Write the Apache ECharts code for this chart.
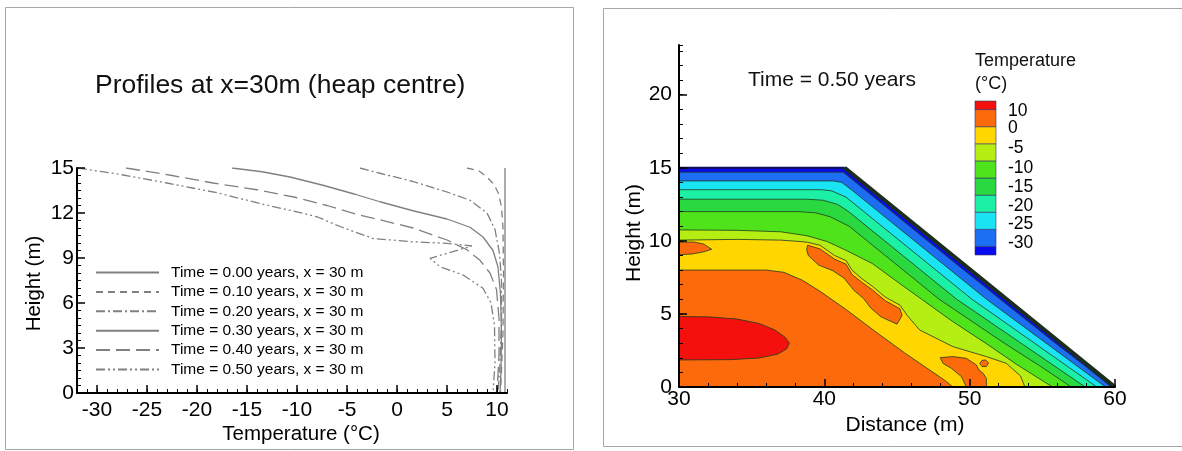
<!DOCTYPE html>
<html><head><meta charset="utf-8">
<script src="https://cdn.jsdelivr.net/npm/echarts@6/dist/echarts.min.js"></script>
<style>html,body{margin:0;padding:0;background:#fff}#c{width:1182px;height:451px}</style>
</head><body><div id="c"></div><script>
// ---------- LEFT PANEL DATA: temperature profiles at x = 30 m ----------
const profileNames = [
  'Time = 0.00 years, x = 30 m','Time = 0.10 years, x = 30 m','Time = 0.20 years, x = 30 m',
  'Time = 0.30 years, x = 30 m','Time = 0.40 years, x = 30 m','Time = 0.50 years, x = 30 m'];
// [temperature (°C), height (m)]
const t000 = [[10.8,0],[10.8,15]];
const t010 = [[7.0,15],[8.2,14.8],[9.0,14.4],[9.7,13.9],[10.15,13.3],[10.45,12.4],[10.6,11],[10.65,8],[10.6,4],[10.45,1.5],[10.35,0]];
const t020 = [[-3.7,15],[-1.7,14.65],[1.6,14.1],[5.0,13.4],[7.3,12.85],[9.0,12.0],[9.8,10.9],[10.25,9.3],[10.45,7.5],[10.45,5],[10.3,2],[10.1,0]];
const t030 = [[-16.5,15],[-13.5,14.75],[-10.7,14.4],[-7.4,13.85],[-4.2,13.25],[-1.7,12.75],[1.6,12.15],[5.0,11.6],[7.3,11.05],[8.6,10.4],[9.6,9.5],[10.1,8.4],[10.35,6.6],[10.45,4],[10.4,1.5],[10.3,0]];
const t040 = [[-27.1,15],[-22.5,14.5],[-18.4,14.0],[-14.0,13.55],[-10.2,13.05],[-7.0,12.5],[-4.0,11.9],[-1.7,11.55],[1.6,11.0],[5.0,10.2],[7.0,9.55],[8.3,8.85],[9.3,8.0],[9.95,6.9],[10.2,5],[10.2,2.5],[10.0,0]];
const t050 = [[-31.9,15],[-27.5,14.55],[-23.0,14.0],[-18.0,13.35],[-13.5,12.6],[-10.5,12.15],[-8.0,11.75],[-5.7,11.1],[-2.4,10.3],[1.6,10.08],[5.0,9.98],[7.5,9.8],[3.3,8.98],[4.3,8.42],[6.6,7.87],[8.6,6.98],[9.4,6.0],[9.75,4.5],[9.8,2.0],[9.6,0]];
const profileData = [t000,t010,t020,t030,t040,t050];
const tempTicks = [-30,-25,-20,-15,-10,-5,0,5,10];

// ---------- RIGHT PANEL DATA: heap cross-section at t = 0.50 years ----------
// [distance (m), height (m)]
const heapOutline = [[30,0],[30,15],[41.4,15],[60,0]];
const heapTop = [[30,15],[41.4,15]];
const heapSlope = [[41.4,15],[60,0]];
const iso1 = [[30,14.7],[41.3,14.7],[47.1,10],[52.1,6],[55.9,3],[57.85,1.5],[59.75,0]];
const iso2 = [[30,14.1],[40.6,14.1],[41.2,14.0],[41.86,13.5],[43.72,12],[47.44,9],[51.16,6],[55.26,3],[57.3,1.5],[59.35,0]];
const iso3 = [[30,13.5],[39.8,13.5],[40.5,13.42],[41.48,13],[42.72,12],[46.44,9],[50.16,6],[54.46,3],[56.6,1.5],[58.75,0]];
const iso4 = [[30,12.85],[38.8,12.85],[39.9,12.78],[40.9,12.5],[41.67,12],[45.39,9],[49.11,6],[53.53,3],[55.74,1.5],[57.95,0]];
const iso5 = [[30,12.0],[38.2,12.0],[39.4,11.92],[40.4,11.65],[41.71,11],[44.19,9],[47.91,6],[52.38,3],[54.74,1.5],[57.0,0]];
const iso6 = [[30,10.75],[34,10.72],[37,10.62],[38.8,10.35],[40.2,9.95],[41.5,9.35],[43.3,8.45],[45.3,7.0],[46.7,6.0],[48.8,4.5],[51.1,3.0],[53.3,1.5],[55.7,0]];
const iso7 = [[30,10.05],[34,10.1],[37,10.05],[38.4,9.95],[38.85,9.9],[39.7,9.7],[40.7,9.0],[41.5,8.65],[41.9,8.0],[42.6,7.4],[43.3,6.9],[44.2,6.15],[45.2,5.6],[45.7,4.9],[46.56,3.9],[48.85,2.76],[51.15,2.08],[52.52,1.62],[53.5,0.75],[53.8,0]];
const iso8 = [[30,8.0],[36.0,8.0],[37.2,7.85],[38.5,7.3],[39.7,6.55],[41.5,5.3],[43.5,3.8],[45.5,2.35],[47.25,1.16],[48.3,0.45],[48.85,0]];
const warmLens = [[30,9.9],[31.0,9.92],[31.7,9.78],[32.25,9.42],[31.7,9.25],[30.9,9.1],[30,9.05]];
const warmSlopeBlob = [[38.85,9.7],[39.7,9.45],[40.7,8.75],[41.5,8.4],[41.9,7.7],[42.6,7.15],[43.3,6.65],[44.2,5.9],[45.2,5.35],[45.35,4.9],[45.0,4.3],[43.9,4.8],[43.2,5.4],[42.7,6.05],[42.05,6.6],[41.35,7.45],[40.6,7.95],[39.6,8.35],[38.9,9.0],[38.78,9.4]];
const warmToeBlob = [[47.98,2.01],[48.85,2.08],[49.77,1.96],[50.11,1.74],[50.46,1.51],[50.64,1.16],[50.92,0.94],[51.15,0.59],[51.15,0],[49.77,0],[49.43,0.71],[48.74,1.28],[48.16,1.62]];
const warmIsland = [[50.7,1.6],[50.85,1.82],[51.1,1.85],[51.3,1.65],[51.15,1.4],[50.85,1.4]];
const hotCore = [[30,4.82],[32,4.8],[34,4.65],[35.5,4.35],[36.6,3.9],[37.3,3.4],[37.6,3.0],[37.4,2.6],[36.8,2.25],[35.5,1.98],[33.5,1.87],[30,1.85]];
const distTicks = [30,40,50,60];
const heightTicks = [0,5,10,15,20];

// ---------- COLOUR BAR ----------
const cbEdges = [0,0.5,1.5,2.5,3.5,4.5,5.5,6.5,7.5,8.5,9];
const cbLabelPos = [0.7,1.81,2.87,3.98,5.09,6.26,7.43,8.42];
const cbLabelText = ['-30','-25','-20','-15','-10','-5','0','10'];

// ---------- styling ----------
const FONT = '"Liberation Sans", Arial, Helvetica, sans-serif';
const BAND = ['#0a0aef','#1c6ef2','#1ae4f4','#1cf0a4','#2ad940','#4fe31c','#b5ee12','#ffd600','#fd6a0c','#f4100c'];
const profileDash = ['solid',[7,5],[9,3,2,3],'solid',[14,6],[9,3,2,3,2,3]];

const closeToBase = pts => [[30,0]].concat(pts);
const heapLayers = [
  {pts: heapOutline, c: BAND[0]},
  {pts: closeToBase(iso1), c: BAND[1]},
  {pts: closeToBase(iso2), c: BAND[2]},
  {pts: closeToBase(iso3), c: BAND[3]},
  {pts: closeToBase(iso4), c: BAND[4]},
  {pts: closeToBase(iso5), c: BAND[5]},
  {pts: closeToBase(iso6), c: BAND[6]},
  {pts: closeToBase(iso7), c: BAND[7]},
  {pts: closeToBase(iso8), c: BAND[8]},
  {pts: warmLens, c: BAND[8]},
  {pts: warmSlopeBlob, c: BAND[8]},
  {pts: warmToeBlob, c: BAND[8]},
  {pts: warmIsland, c: BAND[8]},
  {pts: hotCore, c: BAND[9]}
];

const txt = (size) => ({fontSize:size, fontFamily:FONT, color:'#000'});
const axLine = {onZero:false, lineStyle:{color:'#000', width:2}};

const chart = echarts.init(document.getElementById('c'));
const series = [];
profileData.forEach((d,i) => series.push({
  type:'line', name: profileNames[i], xAxisIndex:0, yAxisIndex:0, data:d,
  symbol:'none', smooth:false, z:3,
  itemStyle:{color:'#808080', opacity:0},
  lineStyle:{color:'#808080', width:1.3, type: profileDash[i]}
}));
series.push({
  type:'custom', xAxisIndex:2, yAxisIndex:1, silent:true, z:2,
  data: heapLayers.map(() => [30,0]),
  renderItem: (params, api) => {
    const L = heapLayers[params.dataIndex];
    return {type:'polygon', shape:{points: L.pts.map(p => api.coord(p))},
      style:{fill:L.c, stroke:'#203a20', lineWidth:0.8}};
  }
});
series.push({type:'line', xAxisIndex:2, yAxisIndex:1, data:heapTop, symbol:'none', silent:true, z:4,
  lineStyle:{color:'#10105a', width:2}});
series.push({type:'line', xAxisIndex:2, yAxisIndex:1, data:heapSlope, symbol:'none', silent:true, z:4,
  lineStyle:{color:'#1b2e1b', width:4}});
series.push({
  type:'custom', xAxisIndex:3, yAxisIndex:3, silent:true, z:2,
  data: BAND.map((c,i) => [0, cbEdges[i]]),
  renderItem: (params, api) => {
    const i = params.dataIndex;
    const a = api.coord([0, cbEdges[i]]), b = api.coord([1, cbEdges[i+1]]);
    return {type:'rect', shape:{x:a[0], y:b[1], width:b[0]-a[0], height:a[1]-b[1]},
      style:{fill:BAND[i], stroke:'#333366', lineWidth:0.6}};
  }
});
series.push({
  type:'custom', xAxisIndex:3, yAxisIndex:3, silent:true, z:2,
  data: cbLabelPos.map(v => [1, v]),
  renderItem: (params, api) => {
    const i = params.dataIndex;
    const p = api.coord([1, cbLabelPos[i]]);
    return {type:'text', x:p[0]+12, y:p[1],
      style:{text:cbLabelText[i], fill:'#000', fontSize:17.5, fontFamily:FONT, align:'left', verticalAlign:'middle'}};
  }
});

chart.setOption({
  animation:false,
  backgroundColor:'#fff',
  textStyle:{fontFamily:FONT},
  title:[
    {text:'Profiles at x=30m (heap centre)', left:95, top:72, padding:0,
      textStyle:{fontSize:26.5, lineHeight:26.5, fontWeight:'normal', color:'#111', fontFamily:FONT}},
    {text:'Time = 0.50 years', left:748, top:69.5, padding:0,
      textStyle:{fontSize:21, lineHeight:21, fontWeight:'normal', color:'#111', fontFamily:FONT}},
    {text:'Temperature\n(°C)', left:975, top:50, padding:0,
      textStyle:{fontSize:18, lineHeight:23, fontWeight:'normal', color:'#111', fontFamily:FONT}}
  ],
  legend:{data:profileNames, orient:'vertical', left:95, top:264.5, padding:0,
    itemWidth:63, itemHeight:14, itemGap:3.4, selectedMode:false,
    itemStyle:{opacity:0},
    textStyle:{fontSize:15.5, color:'#000', fontFamily:FONT, padding:[0,0,0,7]}},
  graphic:[
    {type:'rect', silent:true, z:-10, shape:{x:5.5, y:7.5, width:568, height:442}, style:{fill:'none', stroke:'#a6a6a6', lineWidth:1}},
    {type:'rect', silent:true, z:-10, shape:{x:603.5, y:8.5, width:600, height:438}, style:{fill:'none', stroke:'#a6a6a6', lineWidth:1}}
  ],
  grid:[
    {left:77, top:168, width:430, height:225, outerBoundsMode:'none', containLabel:false},
    {left:679, top:45, width:436, height:342, outerBoundsMode:'none', containLabel:false},
    {left:975, top:101, width:21, height:154, outerBoundsMode:'none', containLabel:false}
  ],
  xAxis:[
    {gridIndex:0, type:'value', position:'bottom', min:-32, max:11, interval:1, z:10,
      axisLine:axLine, axisTick:{inside:true, length:4, lineStyle:{color:'#000', width:1}},
      axisLabel:{show:false}, splitLine:{show:false},
      name:'Temperature (°C)', nameLocation:'middle', nameGap:31,
      nameTextStyle:Object.assign(txt(20.5), {padding:[0,0,0,18]})},
    {gridIndex:0, type:'value', position:'bottom', min:-32, max:11, z:10,
      axisLine:{show:false, onZero:false}, axisTick:{inside:true, length:8, customValues:tempTicks, lineStyle:{color:'#000', width:1.5}},
      axisLabel:Object.assign(txt(21), {customValues:tempTicks, margin:7}), splitLine:{show:false}},
    {gridIndex:1, type:'value', position:'bottom', min:30, max:60, interval:10, z:10,
      axisLine:axLine, axisTick:{inside:true, length:8, customValues:distTicks, lineStyle:{color:'#000', width:1.5}},
      minorTick:{show:true, splitNumber:5, length:4, lineStyle:{color:'#000', width:1}},
      axisLabel:Object.assign(txt(21), {customValues:distTicks, margin:2}), splitLine:{show:false},
      name:'Distance (m)', nameLocation:'middle', nameGap:27,
      nameTextStyle:Object.assign(txt(21), {padding:[0,0,0,16]})},
    {gridIndex:2, type:'value', min:0, max:1, show:false}
  ],
  yAxis:[
    {gridIndex:0, type:'value', position:'left', min:0, max:15, interval:3, z:10,
      axisLine:Object.assign({show:true}, axLine), axisTick:{show:true, inside:true, length:8, lineStyle:{color:'#000', width:1.5}},
      minorTick:{show:true, splitNumber:6, length:4, lineStyle:{color:'#000', width:1}},
      axisLabel:Object.assign(txt(21), {margin:3}), splitLine:{show:false},
      name:'Height (m)', nameLocation:'middle', nameGap:32,
      nameTextStyle:Object.assign(txt(20.5), {padding:[0,6,0,0]})},
    {gridIndex:1, type:'value', position:'left', min:0, max:23.4, interval:1, z:10,
      axisLine:Object.assign({show:true}, axLine), axisTick:{show:true, inside:true, length:4, lineStyle:{color:'#000', width:1}},
      axisLabel:{show:false}, splitLine:{show:false}},
    {gridIndex:1, type:'value', position:'left', min:0, max:23.4, z:10,
      axisLine:{show:false, onZero:false}, axisTick:{show:true, inside:true, length:8, customValues:heightTicks, lineStyle:{color:'#000', width:1.5}},
      axisLabel:Object.assign(txt(21), {customValues:heightTicks, margin:7}), splitLine:{show:false},
      name:'Height (m)', nameLocation:'middle', nameGap:33.5,
      nameTextStyle:Object.assign(txt(21), {padding:[0,34,0,0]})},
    {gridIndex:2, type:'value', min:0, max:9, show:false}
  ],
  series: series
});
</script></body></html>
